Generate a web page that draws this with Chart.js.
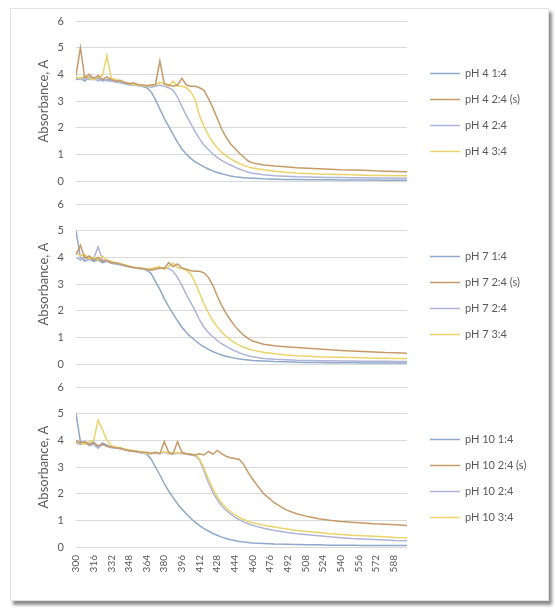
<!DOCTYPE html>
<html>
<head>
<meta charset="utf-8">
<script src="https://cdn.jsdelivr.net/npm/chart.js@4"></script>
<style>
  body { margin: 0; background: #fff; width: 555px; height: 608px; overflow: hidden; position: relative; font-family: Lato, sans-serif; }
  #frame { position: absolute; left: 10px; top: 8px; width: 537px; height: 591px; border: 1px solid #e2e2e2; box-shadow: 3px 4px 3px rgba(0,0,0,.45); background: #fff; }
  canvas { position: absolute; left: 0; }
</style>
</head>
<body>
<div id="frame"></div>
<canvas id="c1" width="555" height="180" style="top:10px"></canvas>
<canvas id="c2" width="555" height="180" style="top:193px"></canvas>
<canvas id="c3" width="555" height="224" style="top:376px"></canvas>
<script>
// wavelength, nm (shared by all series)
const WL = [300,304,308,312,316,320,324,328,332,336,340,344,348,352,356,360,364,368,372,376,380,
  384,388,392,396,400,404,408,412,416,420,424,428,432,436,440,444,448,452,456,460,
  470,480,490,500,510,520,530,540,550,560,570,580,590,600];
const X_TICKS = [300,316,332,348,364,380,396,412,428,444,460,476,492,508,524,540,556,572,588];
const Y_TICKS = [0,1,2,3,4,5,6];

// ── pH 4 ──
const PH4_LABELS = ['pH 4 1:4', 'pH 4 2:4 (s)', 'pH 4 2:4', 'pH 4 3:4'];
const ph4_1 = [3.80,3.85,3.75,3.90,3.80,3.85,3.75,3.80,3.78,3.70,3.72,3.65,3.62,3.60,3.58,3.55,3.50,3.35,3.05,2.70,2.35,
  2.05,1.75,1.45,1.20,1.00,0.85,0.72,0.62,0.53,0.45,0.38,0.32,0.27,0.23,0.19,0.16,0.14,0.12,0.11,0.10,
  0.08,0.07,0.06,0.06,0.05,0.05,0.05,0.04,0.04,0.04,0.04,0.03,0.03,0.03];
const ph4_2s = [3.95,5.00,3.85,4.00,3.85,3.95,3.80,3.90,3.80,3.75,3.78,3.70,3.65,3.68,3.62,3.60,3.58,3.60,3.62,4.50,3.65,
  3.60,3.55,3.60,3.85,3.60,3.55,3.55,3.50,3.40,3.10,2.75,2.35,1.95,1.65,1.40,1.22,1.05,0.90,0.75,0.68,
  0.60,0.56,0.53,0.50,0.48,0.46,0.44,0.42,0.41,0.40,0.38,0.37,0.36,0.35];
const ph4_2 = [3.85,3.80,3.90,3.80,3.85,3.75,3.82,3.75,3.75,3.72,3.68,3.66,3.62,3.60,3.58,3.55,3.55,3.52,3.55,3.60,3.55,
  3.50,3.40,3.15,2.80,2.45,2.15,1.85,1.58,1.35,1.18,1.02,0.88,0.77,0.68,0.60,0.52,0.45,0.39,0.33,0.29,
  0.23,0.20,0.18,0.16,0.15,0.14,0.13,0.13,0.12,0.12,0.11,0.11,0.10,0.10];
const ph4_3 = [3.90,3.85,3.95,3.85,3.80,3.90,3.95,4.70,3.85,3.80,3.75,3.70,3.68,3.62,3.60,3.58,3.55,3.58,3.62,3.70,3.65,
  3.55,3.75,3.55,3.55,3.50,3.35,3.05,2.45,2.05,1.72,1.45,1.25,1.08,0.95,0.83,0.74,0.66,0.59,0.53,0.49,
  0.42,0.37,0.33,0.30,0.28,0.26,0.25,0.24,0.23,0.22,0.21,0.21,0.20,0.20];

// ── pH 7 ──
const PH7_LABELS = ['pH 7 1:4', 'pH 7 2:4 (s)', 'pH 7 2:4', 'pH 7 3:4'];
const ph7_1 = [5.00,4.00,3.85,3.95,3.85,3.90,3.80,3.85,3.78,3.75,3.72,3.68,3.65,3.62,3.60,3.58,3.52,3.40,3.10,2.80,2.45,
  2.15,1.88,1.62,1.38,1.18,1.02,0.88,0.75,0.64,0.55,0.47,0.40,0.34,0.29,0.25,0.22,0.19,0.17,0.15,0.13,
  0.11,0.09,0.08,0.07,0.06,0.06,0.05,0.05,0.05,0.04,0.04,0.04,0.04,0.04];
const ph7_2s = [4.10,4.45,3.95,4.05,3.90,4.00,3.85,3.90,3.80,3.80,3.75,3.70,3.66,3.62,3.60,3.58,3.55,3.52,3.55,3.60,3.58,
  3.80,3.65,3.75,3.60,3.55,3.50,3.48,3.48,3.42,3.25,2.95,2.55,2.20,1.90,1.65,1.42,1.24,1.08,0.96,0.86,
  0.74,0.68,0.65,0.62,0.59,0.56,0.53,0.51,0.49,0.47,0.45,0.43,0.42,0.40];
const ph7_2 = [4.00,3.90,4.05,3.90,3.95,4.40,3.90,3.85,3.80,3.78,3.72,3.70,3.65,3.62,3.58,3.56,3.55,3.55,3.58,3.60,3.62,
  3.58,3.48,3.25,2.95,2.60,2.30,2.00,1.65,1.38,1.18,1.02,0.88,0.76,0.66,0.57,0.49,0.42,0.36,0.31,0.27,
  0.21,0.18,0.16,0.14,0.13,0.12,0.12,0.11,0.11,0.10,0.10,0.10,0.09,0.09];
const ph7_3 = [4.20,4.05,4.10,3.95,4.00,3.90,4.05,3.88,3.85,3.80,3.76,3.72,3.68,3.64,3.60,3.58,3.56,3.58,3.62,3.65,3.55,
  3.65,3.78,3.62,3.58,3.52,3.38,3.05,2.65,2.25,1.92,1.62,1.40,1.20,1.04,0.90,0.79,0.70,0.63,0.57,0.52,
  0.44,0.38,0.34,0.31,0.29,0.27,0.26,0.25,0.24,0.23,0.22,0.22,0.21,0.21];

// ── pH 10 ──
const PH10_LABELS = ['pH 10 1:4', 'pH 10 2:4 (s)', 'pH 10 2:4', 'pH 10 3:4'];
const ph10_1 = [5.00,3.95,3.90,3.85,3.95,3.75,3.90,3.82,3.75,3.72,3.70,3.66,3.62,3.60,3.58,3.55,3.48,3.30,3.00,2.70,2.38,
  2.10,1.85,1.62,1.42,1.25,1.08,0.93,0.80,0.69,0.60,0.51,0.44,0.37,0.32,0.27,0.24,0.21,0.19,0.17,0.15,
  0.13,0.11,0.10,0.09,0.08,0.08,0.07,0.07,0.07,0.06,0.06,0.06,0.06,0.06];
const ph10_2s = [4.00,3.90,3.95,3.85,3.90,3.80,3.85,3.78,3.75,3.72,3.70,3.66,3.62,3.60,3.58,3.56,3.55,3.52,3.55,3.50,3.95,
  3.55,3.50,3.95,3.55,3.50,3.48,3.45,3.50,3.45,3.58,3.48,3.62,3.50,3.40,3.35,3.32,3.28,3.10,2.80,2.55,
  2.00,1.65,1.40,1.25,1.14,1.06,1.00,0.96,0.93,0.90,0.87,0.85,0.83,0.81];
const ph10_2 = [3.90,3.85,3.92,3.80,3.85,3.70,3.85,3.78,3.72,3.70,3.68,3.65,3.60,3.58,3.55,3.52,3.50,3.50,3.52,3.50,3.55,
  3.50,3.48,3.52,3.50,3.48,3.45,3.42,3.25,2.85,2.42,2.05,1.78,1.55,1.38,1.24,1.12,1.02,0.94,0.87,0.81,
  0.70,0.62,0.55,0.50,0.46,0.42,0.38,0.35,0.32,0.30,0.28,0.26,0.24,0.23];
const ph10_3 = [3.95,3.90,3.85,3.95,4.00,4.75,4.40,4.00,3.80,3.75,3.72,3.68,3.65,3.62,3.58,3.55,3.52,3.50,3.55,3.52,3.58,
  3.52,3.50,3.55,3.52,3.50,3.48,3.45,3.30,2.95,2.55,2.18,1.88,1.65,1.47,1.33,1.21,1.11,1.03,0.96,0.91,
  0.82,0.75,0.68,0.62,0.58,0.54,0.50,0.47,0.44,0.42,0.40,0.38,0.36,0.35];

const COLORS = ['#8EA8CA', '#C69A68', '#AEB3D8', '#EBD36A'];
const ORDER = [3, 0, 2, 1];   // (s) and 3:4 drawn on top
const TEXT = '#595959';

// legend to the right of the plot, like the Excel sheet
const sideLegend = {
  id: 'sideLegend',
  afterDraw(chart) {
    const { ctx, chartArea } = chart;
    const mid = (chartArea.top + chartArea.bottom) / 2 + 11;
    const x0 = chartArea.right + 23;
    ctx.save();
    ctx.font = '11px Lato';
    ctx.textBaseline = 'middle';
    chart.data.datasets.forEach((ds, i) => {
      const y = Math.round(mid + (i - 1.5) * 26) + 0.5;
      ctx.strokeStyle = ds.borderColor;
      ctx.lineWidth = 1.5;
      ctx.beginPath(); ctx.moveTo(x0, y); ctx.lineTo(x0 + 30, y); ctx.stroke();
      ctx.fillStyle = TEXT;
      ctx.fillText(ds.label, x0 + 35, y);
    });
    ctx.restore();
  }
};

function makePanel(id, labels, series, showX) {
  return new Chart(document.getElementById(id), {
    type: 'line',
    data: {
      datasets: series.map((s, k) => ({
        label: labels[k],
        data: WL.map((w, i) => ({ x: w, y: s[i] })),
        borderColor: COLORS[k],
        borderWidth: 1.5,
        pointRadius: 0,
        tension: 0,
        order: ORDER[k]
      }))
    },
    options: {
      responsive: false,
      animation: false,
      events: [],
      layout: { padding: { left: 36, right: 148, top: 11, bottom: showX ? 23 : 9 } },
      plugins: { legend: { display: false }, tooltip: { enabled: false } },
      scales: {
        x: {
          type: 'linear', min: 300, max: 600, display: showX,
          grid: { display: false, drawTicks: false }, border: { display: false },
          afterBuildTicks: s => { s.ticks = X_TICKS.map(v => ({ value: v })); },
          afterFit: s => { s.height = showX ? 30 : 0; s.paddingLeft = 0; s.paddingRight = 0; },
          ticks: { autoSkip: false, minRotation: 90, maxRotation: 90, padding: 8, color: TEXT, font: { family: 'Lato', size: 10 } }
        },
        y: {
          min: 0, max: 6,
          afterBuildTicks: s => { s.ticks = Y_TICKS.map(v => ({ value: v })); },
          afterFit: s => { s.width = 40; s.paddingTop = 0; s.paddingBottom = 0; },
          grid: { color: '#d9d9d9', drawTicks: false }, border: { display: false },
          ticks: { padding: 12, color: TEXT, font: { family: 'Lato', size: 11 } },
          title: { display: true, text: 'Absorbance, A', color: TEXT, font: { family: 'Lato', size: 13 }, padding: { top: 0, bottom: 8 } }
        }
      }
    },
    plugins: [sideLegend]
  });
}

makePanel('c1', PH4_LABELS, [ph4_1, ph4_2s, ph4_2, ph4_3], false);
makePanel('c2', PH7_LABELS, [ph7_1, ph7_2s, ph7_2, ph7_3], false);
makePanel('c3', PH10_LABELS, [ph10_1, ph10_2s, ph10_2, ph10_3], true);
</script>
</body>
</html>
